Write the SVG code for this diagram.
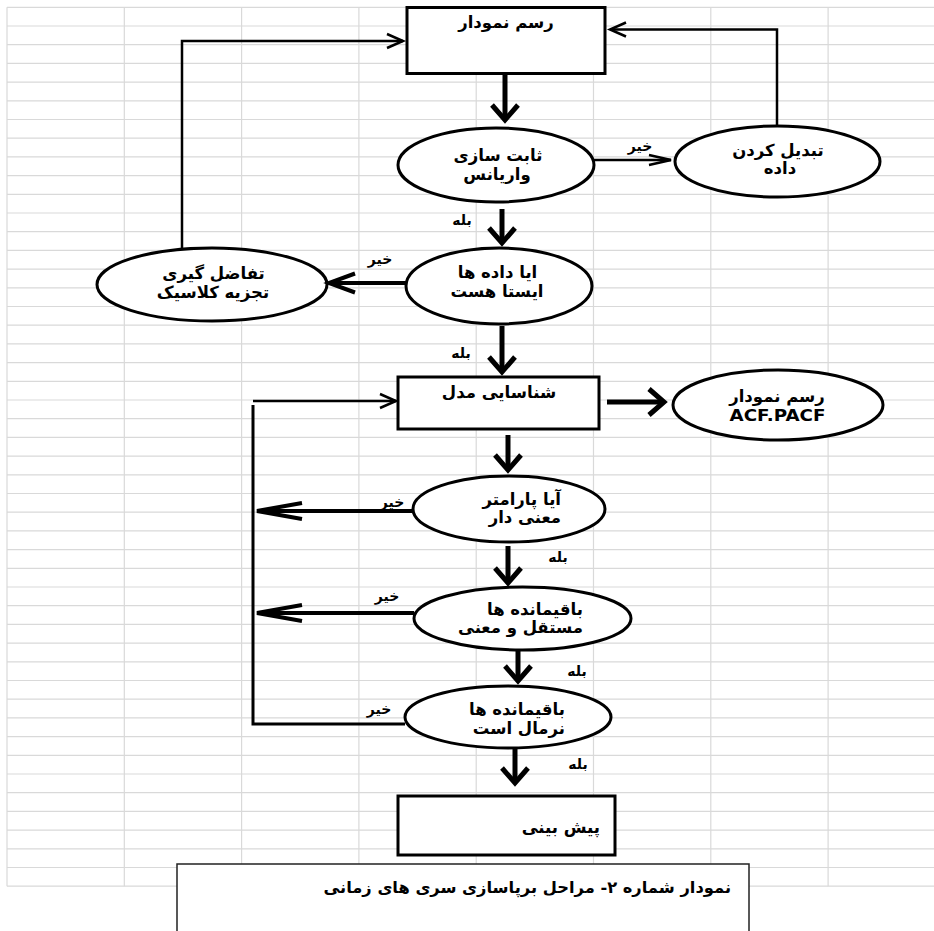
<svg xmlns="http://www.w3.org/2000/svg" width="934" height="931" viewBox="0 0 934 931">
<defs>
<style>
.grid{fill:none;stroke:#d9d9d9;stroke-width:1.2}
.box{fill:#fff;stroke:#000;stroke-width:3}
.cap{fill:#fff;stroke:#222;stroke-width:1.5}
.t{font-family:'DejaVu Sans','Noto Sans',sans-serif;font-weight:bold;font-size:16.5px;fill:#000;text-anchor:middle;dominant-baseline:central}
.r{text-anchor:start;direction:rtl}
.lbl{font-size:14px}
.capt{font-size:16.3px}
.c{fill:none;stroke:#000;stroke-linejoin:miter}
.w5{stroke-width:5}
.w4{stroke-width:4}
.w3{stroke-width:3}
.w25{stroke-width:2.5}
.ah{fill:none;stroke:#000}
</style>
<marker id="aThick" viewBox="-20 -16 24 32" refX="0" refY="0" markerWidth="24" markerHeight="32" markerUnits="userSpaceOnUse" orient="auto" overflow="visible"><path class="ah" d="M-15,-13L0,0L-15,13" stroke-width="5"/></marker>
<marker id="aMid" viewBox="-30 -12 34 24" refX="0" refY="0" markerWidth="34" markerHeight="24" markerUnits="userSpaceOnUse" orient="auto" overflow="visible"><path class="ah" d="M-26,-9.5L0,0L-26,9.5" stroke-width="4"/></marker>
<marker id="aLong" viewBox="-50 -11 54 22" refX="0" refY="0" markerWidth="54" markerHeight="22" markerUnits="userSpaceOnUse" orient="auto" overflow="visible"><path class="ah" d="M-45,-8L0,0L-45,8" stroke-width="4"/></marker>
<marker id="aThin" viewBox="-20 -10 24 20" refX="0" refY="0" markerWidth="24" markerHeight="20" markerUnits="userSpaceOnUse" orient="auto" overflow="visible"><path class="ah" d="M-16,-7L0,0L-16,7" stroke-width="2.5"/></marker>
<marker id="aThin2" viewBox="-26 -8 30 16" refX="0" refY="0" markerWidth="30" markerHeight="16" markerUnits="userSpaceOnUse" orient="auto" overflow="visible"><path class="ah" d="M-22,-5L0,0L-22,5" stroke-width="2.5"/></marker>
</defs>
<rect x="0" y="0" width="934" height="931" fill="#fff"/>
<g id="grid">
<path class="grid" d="M7 7.3H934M7 26H934M7 44.7H934M7 63.4H934M7 82.1H934M7 100.8H934M7 119.5H934M7 138.2H934M7 156.9H934M7 175.6H934M7 194.3H934M7 213H934M7 231.7H934M7 250.4H934M7 269.1H934M7 287.8H934M7 306.5H934M7 325.2H934M7 343.9H934M7 362.6H934M7 381.3H934M7 400H934M7 418.7H934M7 437.4H934M7 456.1H934M7 474.8H934M7 493.5H934M7 512.2H934M7 530.9H934M7 549.6H934M7 568.3H934M7 587H934M7 605.7H934M7 624.4H934M7 643.1H934M7 661.8H934M7 680.5H934M7 699.2H934M7 717.9H934M7 736.6H934M7 755.3H934M7 774H934M7 792.7H934M7 811.4H934M7 830.1H934M7 848.8H934M7 867.5H934M7 886.2H934"/>
<path class="grid" d="M7 7.3V886.2M124.3 7.3V886.2M241.6 7.3V886.2M358.9 7.3V886.2M476.2 7.3V886.2M593.5 7.3V886.2M710.8 7.3V886.2M828.1 7.3V886.2"/>
</g>
<g id="n-plot"><rect class="box" x="407" y="7.5" width="198" height="66"/><text class="t" x="506" y="22">رسم نمودار</text></g>
<g id="n-stabilize"><ellipse class="box" cx="496" cy="165" rx="98" ry="37"/><text class="t" x="498" y="155">ثابت سازی</text><text class="t" x="497" y="174">واریانس</text></g>
<g id="n-transform"><ellipse class="box" cx="777.5" cy="161.5" rx="102.5" ry="35.5"/><text class="t" x="778" y="150">تبدیل کردن</text><text class="t" x="780" y="168">داده</text></g>
<g id="n-stationary"><ellipse class="box" cx="499" cy="286" rx="93" ry="38"/><text class="t" x="497.5" y="272">ایا داده ها</text><text class="t" x="497" y="291">ایستا هست</text></g>
<g id="n-diff"><ellipse class="box" cx="212" cy="284.5" rx="115" ry="36.5"/><text class="t" x="213.5" y="273">تفاضل گیری</text><text class="t" x="213" y="292">تجزیه کلاسیک</text></g>
<g id="n-identify"><rect class="box" x="398" y="377" width="201" height="52"/><text class="t" x="499" y="392">شناسایی مدل</text></g>
<g id="n-acf"><ellipse class="box" cx="778" cy="405" rx="105" ry="35"/><text class="t" x="777" y="396">رسم نمودار</text><text class="t" x="777.5" y="415" font-size="15" textLength="96" lengthAdjust="spacingAndGlyphs">ACF.PACF</text></g>
<g id="n-param"><ellipse class="box" cx="509" cy="509" rx="96" ry="33"/><text class="t r" x="561" y="499">آیا پارامتر</text><text class="t r" x="561" y="517">معنی دار</text></g>
<g id="n-resid-indep"><ellipse class="box" cx="522.5" cy="618.5" rx="108.5" ry="31.5"/><text class="t r" x="583" y="609">باقیمانده ها</text><text class="t r" x="583" y="627">مستقل و معنی</text></g>
<g id="n-resid-normal"><ellipse class="box" cx="508" cy="717" rx="103" ry="31"/><text class="t r" x="565" y="709">باقیمانده ها</text><text class="t r" x="565" y="728">نرمال است</text></g>
<g id="n-forecast"><rect class="box" x="398" y="796" width="217" height="59"/><text class="t r" x="600" y="827">پیش بینی</text></g>
<g id="connectors">
<path class="c w5" d="M505,75V120" marker-end="url(#aThick)"/>
<path class="c w25" d="M594,160H671" marker-end="url(#aThin2)"/>
<path class="c w25" d="M777,126V29.5H610" marker-end="url(#aThin)"/>
<path class="c w5" d="M502,209V243" marker-end="url(#aThick)"/>
<path class="c w4" d="M406,283H329" marker-end="url(#aMid)"/>
<path class="c w25" d="M182,249V41H403" marker-end="url(#aThin)"/>
<path class="c w5" d="M502,326V372" marker-end="url(#aThick)"/>
<path class="c w5" d="M607,402H664" marker-end="url(#aThick)"/>
<path class="c w25" d="M253,401H396" marker-end="url(#aThin)"/>
<path class="c w3" d="M405,724H253V405"/>
<path class="c w5" d="M508,435V470" marker-end="url(#aThick)"/>
<path class="c w4" d="M413,511H257" marker-end="url(#aLong)"/>
<path class="c w5" d="M508,546V583" marker-end="url(#aThick)"/>
<path class="c w4" d="M414,613H257" marker-end="url(#aLong)"/>
<path class="c w5" d="M518,650V681" marker-end="url(#aThick)"/>
<path class="c w5" d="M515,748V783" marker-end="url(#aThick)"/>
</g>
<g id="labels">
<text class="t lbl" x="640" y="146">خیر</text>
<text class="t lbl" x="462" y="220">بله</text>
<text class="t lbl" x="380" y="259">خیر</text>
<text class="t lbl" x="461" y="353">بله</text>
<text class="t lbl" x="392" y="502">خیر</text>
<text class="t lbl" x="558" y="557">بله</text>
<text class="t lbl" x="387" y="596">خیر</text>
<text class="t lbl" x="577" y="671">بله</text>
<text class="t lbl" x="379" y="709">خیر</text>
<text class="t lbl" x="578" y="764">بله</text>
</g>
<g id="caption"><rect class="cap" x="177" y="864" width="572" height="80"/><text class="t r capt" x="731" y="887">نمودار شماره ۲- مراحل برپاسازی  سری های زمانی</text></g>
</svg>
